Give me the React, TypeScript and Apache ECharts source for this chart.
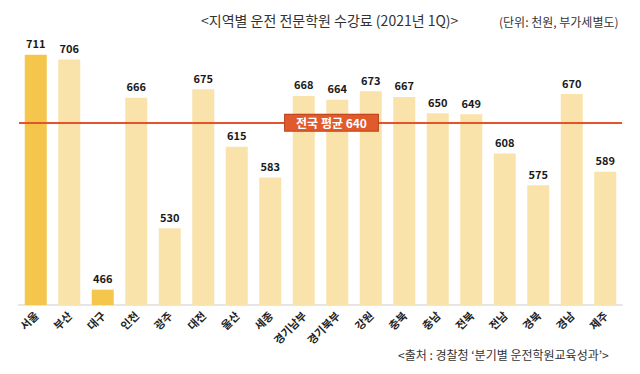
import React, { useEffect, useRef } from "react";
import * as echarts from "echarts";

const categories = ["서울", "부산", "대구", "인천", "광주", "대전", "울산", "세종", "경기남부", "경기북부", "강원", "충북", "충남", "전북", "전남", "경북", "경남", "제주"];
const fees = [711, 706, 466, 666, 530, 675, 615, 583, 668, 664, 673, 667, 650, 649, 608, 575, 670, 589];
const highlighted = ["서울", "대구"];
const nationalAverage = 640;

const FONT = "'Noto Sans CJK KR', 'Noto Sans', sans-serif";

export default function App() {
  const ref = useRef<HTMLDivElement>(null);
  useEffect(() => {
    document.body.style.margin = "0";
    const chart = echarts.init(ref.current!, null, { renderer: "svg" });
    chart.setOption({
      animation: false,
      backgroundColor: "#ffffff",
      textStyle: { fontFamily: FONT },
      title: [
        {
          text: "<지역별 운전 전문학원 수강료 (2021년 1Q)>",
          left: 196,
          top: 8,
          textStyle: { fontSize: 14, fontWeight: "normal", color: "#333", fontFamily: FONT },
        },
        {
          text: "(단위: 천원, 부가세별도)",
          left: 494,
          top: 10,
          textStyle: { fontSize: 12, fontWeight: "normal", color: "#333", fontFamily: FONT },
        },
        {
          text: "<출처 : 경찰청 ‘분기별 운전학원교육성과’>",
          left: 393,
          top: 343,
          textStyle: { fontSize: 12, fontWeight: "normal", color: "#333", fontFamily: FONT },
        },
      ],
      grid: { left: 19, right: 18, top: 36.5, bottom: 69, containLabel: false },
      xAxis: {
        type: "category",
        data: categories,
        axisTick: { show: false },
        axisLine: { show: true, lineStyle: { color: "#e6e6e6", width: 2 } },
        axisLabel: {
          rotate: 45,
          interval: 0,
          fontSize: 11,
          fontWeight: "bold",
          color: "#222",
          margin: 8,
          fontFamily: FONT,
        },
      },
      yAxis: {
        type: "value",
        min: 450,
        max: 730,
        show: false,
        splitLine: { show: false },
      },
      series: [
        {
          type: "bar",
          data: fees.map((v, i) => ({
            value: v,
            itemStyle: { color: highlighted.includes(categories[i]) ? "#F5C64C" : "#FAE3AA" },
          })),
          barWidth: 22,
          label: {
            show: true,
            position: "top",
            distance: 6,
            fontSize: 11,
            fontWeight: "bold",
            color: "#1a1a1a",
            fontFamily: FONT,
          },
          markLine: {
            symbol: "none",
            silent: true,
            lineStyle: { color: "#E5532B", width: 2, type: "solid" },
            label: {
              show: true,
              position: "middle",
              distance: 0,
              verticalAlign: "middle",
              offset: [11, 0],
              formatter: "전국 평균 " + nationalAverage,
              backgroundColor: "#E05A2C",
              borderColor: "#B8421E",
              borderWidth: 1,
              color: "#ffffff",
              fontSize: 12,
              fontWeight: "bold",
              padding: [2, 11, 2, 11],
              fontFamily: FONT,
            },
            data: [{ yAxis: nationalAverage }],
          },
        },
      ],
    });
    return () => chart.dispose();
  }, []);
  return <div ref={ref} style={{ width: 640, height: 374 }} />;
}
